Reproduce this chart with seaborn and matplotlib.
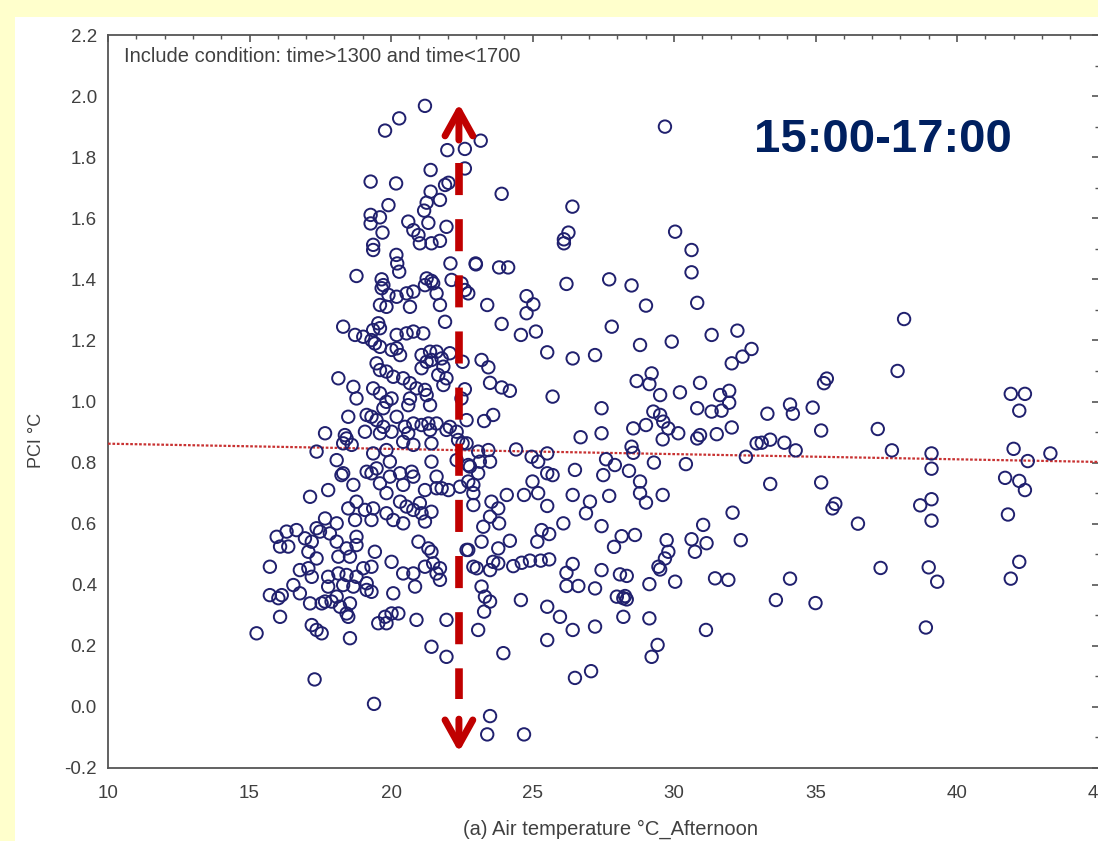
import numpy as np
import pandas as pd
import matplotlib
matplotlib.use("Agg")
import matplotlib.pyplot as plt
from matplotlib.patches import Rectangle
from matplotlib.ticker import MultipleLocator, FormatStrFormatter
import seaborn as sns

# air temperature (x) and PCI (y)
air_temp = [
    # upper cluster
    21.20, 20.29, 19.79, 21.99, 22.61, 23.17, 22.61, 21.40, 19.28, 20.18, 21.91, 22.03,
    21.40, 21.73, 21.26, 21.17, 19.91, 19.28, 19.61, 19.28, 19.70, 20.61, 20.79, 20.97,
    21.02, 21.32, 21.43, 21.73, 21.96, 19.37, 19.37, 20.19, 20.22, 20.29, 22.10, 22.99,
    18.78, 19.67, 19.73, 21.26, 21.43, 21.49, 22.14, 22.49,
    # middle cluster
    19.67, 19.91, 20.20, 20.55, 20.79, 21.20, 21.61, 21.73, 19.61, 19.84, 20.67, 21.91,
    18.31, 18.73, 19.02, 19.37, 19.55, 19.61, 19.31, 19.43, 19.61, 20.20, 20.55, 20.79,
    21.14, 20.20, 20.32, 20.02, 21.08, 21.38, 21.61, 21.79, 21.43, 21.26, 21.08, 21.85,
    22.08, 19.49, 19.61, 19.84, 18.14, 18.67, 18.78, 19.37, 19.61, 20.08, 20.43, 20.67,
    20.90, 21.20, 21.26, 21.67, 21.96, 21.85, 22.49, 19.84, 19.73, 20.02, 20.61, 20.67,
    21.38, 18.49, 19.14, 19.31, 19.49, 19.73, 20.20, 20.49, 20.79, 21.08, 21.32, 21.61,
    22.08, 17.67, 18.37, 18.43, 19.08, 19.61, 20.02, 20.61, 21.38, 21.96, 22.32, 17.37,
    18.31, 18.61, 19.37, 19.84, 20.43, 20.79, 21.43, 22.37, 22.67, 18.08, 18.31, 19.14,
    19.49, 19.96, 20.32, 20.73, 21.43, 21.61, 22.32, 22.79, 23.14,
    # lower cluster
    18.25, 18.67, 19.31, 19.61, 19.84, 19.96, 20.43, 20.79, 17.78, 17.14, 21.20, 21.61,
    21.79, 22.03, 22.44, 22.91, 20.32, 20.55, 20.79, 21.02, 21.08, 21.43, 21.20, 18.49,
    18.78, 19.08, 19.37, 18.73, 19.31, 19.84, 20.08, 20.43, 17.67, 18.08, 17.37, 17.49,
    17.84, 15.96, 16.31, 16.66, 16.96, 17.20, 16.08, 16.37, 18.08, 18.43, 18.78, 18.78,
    18.14, 18.55, 17.08, 17.37, 17.08, 17.20, 16.78, 16.55, 17.78, 18.14, 18.43, 18.78,
    19.14, 18.31, 18.67, 17.78, 18.08, 17.67, 19.14, 19.31, 19.43, 19.31, 19.02, 20.02,
    20.43, 20.79, 20.85, 21.20, 21.43, 21.32, 20.97, 21.49, 21.73, 21.61, 21.73, 20.08,
    15.72, 15.72, 16.02, 16.14, 16.08, 16.78, 17.14, 17.55, 17.90, 18.20, 18.55, 18.43,
    18.49, 15.25, 17.20, 17.37, 17.55, 18.55, 19.55, 19.79, 20.02, 20.26, 19.84, 20.90,
    21.96, 22.73, 21.43, 21.96,
    # spread to the right of the arrow
    23.91, 26.41, 26.27, 26.11, 26.11, 30.04, 30.62, 30.62, 30.82, 23.00, 23.82, 24.14,
    26.20, 27.71, 28.50, 29.01, 22.61, 22.73, 23.40, 24.79, 25.03, 24.79, 23.91, 24.59,
    25.12, 27.80, 31.33, 32.24, 32.74, 32.42, 32.04, 28.80, 29.92, 25.52, 26.42, 27.21,
    22.53, 23.20, 23.44, 23.50, 23.91, 24.20, 22.61, 25.71, 29.21, 28.68, 29.13, 29.51,
    30.21, 30.92, 30.82, 31.33, 31.68, 31.63, 31.95, 31.95, 27.44, 22.67, 23.29, 23.61,
    29.27, 29.51, 29.62, 29.80, 30.15, 29.60, 28.56, 29.01, 31.51, 32.04, 30.82, 30.92,
    27.44, 26.70, 24.42, 24.97, 25.20, 25.52, 25.52, 25.71, 22.53, 23.08, 23.44, 23.50,
    28.50, 28.56, 29.29, 30.42, 27.60, 27.91, 27.50, 28.41, 26.50, 32.54, 32.92, 28.80,
    28.80, 29.01, 29.60, 25.00, 25.20, 25.52, 24.70, 24.09, 26.42, 27.03, 26.89, 27.71,
    26.09, 27.44, 32.07, 32.36, 31.03, 30.62, 31.15, 30.74, 29.74, 29.80, 29.68, 29.45,
    29.51, 27.88, 28.15, 28.62, 30.04, 29.13, 31.45, 31.92, 27.44, 28.09, 28.33, 27.98,
    28.21, 28.33, 28.27, 28.21, 29.13, 31.13, 26.20, 26.62, 27.21, 26.42, 26.20, 25.59,
    25.29, 24.91, 24.62, 24.32, 25.17, 25.59, 25.32, 24.20, 24.59, 25.52, 25.97, 26.42,
    27.21, 25.52, 29.42, 29.21, 23.97, 23.20, 23.32, 23.50, 23.29, 23.08, 22.91, 23.03,
    23.50, 23.61, 23.79, 22.67, 23.20, 23.79, 23.26, 23.50, 23.82, 23.79, 23.55, 22.91,
    22.91, 22.73, 23.08, 22.73,
    # outliers
    29.68, 26.50, 27.07, 17.30, 19.40, 23.50, 23.40, 24.70,
    # hot days
    38.13, 37.90, 41.90, 42.40, 42.20, 37.20, 37.70, 39.10, 39.10, 42.00, 42.50, 43.30,
    41.70, 42.20, 42.40, 38.70, 39.10, 39.10, 41.80, 36.50, 37.30, 39.00, 39.30, 42.20,
    41.90, 38.90, 35.70, 35.60, 35.20, 35.00, 34.10, 33.60, 33.40, 35.40, 35.30, 34.90,
    34.10, 34.20, 34.30, 33.90, 35.20, 33.30, 33.10, 33.40,
]

pci = [
    # upper cluster
    1.968, 1.927, 1.887, 1.823, 1.827, 1.854, 1.763, 1.758, 1.720, 1.714, 1.709, 1.716,
    1.687, 1.660, 1.651, 1.625, 1.643, 1.611, 1.603, 1.583, 1.553, 1.589, 1.561, 1.545,
    1.518, 1.585, 1.518, 1.526, 1.572, 1.513, 1.496, 1.480, 1.452, 1.425, 1.452, 1.452,
    1.411, 1.400, 1.381, 1.403, 1.395, 1.387, 1.398, 1.387,
    # middle cluster
    1.371, 1.349, 1.343, 1.354, 1.360, 1.381, 1.354, 1.316, 1.316, 1.310, 1.310, 1.261,
    1.245, 1.218, 1.212, 1.234, 1.256, 1.240, 1.201, 1.190, 1.179, 1.218, 1.223, 1.229,
    1.223, 1.174, 1.152, 1.169, 1.152, 1.163, 1.163, 1.141, 1.136, 1.130, 1.109, 1.114,
    1.158, 1.125, 1.103, 1.098, 1.076, 1.048, 1.010, 1.043, 1.027, 1.081, 1.076, 1.060,
    1.043, 1.038, 1.021, 1.087, 1.076, 1.054, 1.010, 0.999, 0.978, 1.010, 0.988, 1.010,
    0.988, 0.950, 0.956, 0.950, 0.939, 0.917, 0.950, 0.917, 0.928, 0.923, 0.928, 0.928,
    0.917, 0.896, 0.890, 0.879, 0.901, 0.896, 0.901, 0.896, 0.907, 0.907, 0.901, 0.836,
    0.863, 0.858, 0.830, 0.841, 0.868, 0.858, 0.863, 0.874, 0.863, 0.808, 0.765, 0.770,
    0.781, 0.803, 0.765, 0.770, 0.803, 0.754, 0.808, 0.787, 0.803,
    # lower cluster
    0.759, 0.727, 0.765, 0.732, 0.700, 0.754, 0.727, 0.754, 0.710, 0.688, 0.710, 0.716,
    0.716, 0.710, 0.721, 0.727, 0.672, 0.656, 0.645, 0.667, 0.634, 0.639, 0.607, 0.650,
    0.672, 0.645, 0.650, 0.612, 0.612, 0.634, 0.612, 0.601, 0.617, 0.601, 0.585, 0.574,
    0.568, 0.557, 0.574, 0.579, 0.552, 0.541, 0.525, 0.525, 0.541, 0.519, 0.557, 0.530,
    0.492, 0.492, 0.508, 0.486, 0.454, 0.426, 0.448, 0.399, 0.426, 0.437, 0.432, 0.426,
    0.405, 0.399, 0.394, 0.394, 0.361, 0.345, 0.383, 0.377, 0.508, 0.459, 0.454, 0.475,
    0.437, 0.437, 0.394, 0.459, 0.508, 0.519, 0.541, 0.470, 0.454, 0.437, 0.416, 0.372,
    0.459, 0.366, 0.356, 0.366, 0.295, 0.372, 0.339, 0.339, 0.345, 0.328, 0.339, 0.306,
    0.295, 0.241, 0.268, 0.252, 0.241, 0.225, 0.274, 0.295, 0.306, 0.306, 0.274, 0.285,
    0.285, 0.514, 0.197, 0.164,
    # spread to the right of the arrow
    1.680, 1.638, 1.553, 1.531, 1.518, 1.556, 1.496, 1.423, 1.323, 1.449, 1.439, 1.439,
    1.385, 1.400, 1.380, 1.314, 1.365, 1.354, 1.316, 1.345, 1.318, 1.289, 1.254, 1.218,
    1.229, 1.245, 1.218, 1.232, 1.172, 1.147, 1.125, 1.185, 1.196, 1.161, 1.141, 1.152,
    1.130, 1.136, 1.112, 1.061, 1.046, 1.035, 1.040, 1.016, 1.092, 1.067, 1.057, 1.021,
    1.030, 1.061, 0.978, 0.967, 0.970, 1.021, 1.035, 0.996, 0.978, 0.939, 0.936, 0.956,
    0.967, 0.956, 0.934, 0.912, 0.896, 0.876, 0.912, 0.923, 0.893, 0.915, 0.879, 0.890,
    0.896, 0.883, 0.843, 0.819, 0.803, 0.830, 0.765, 0.759, 0.863, 0.836, 0.841, 0.803,
    0.852, 0.832, 0.800, 0.795, 0.811, 0.792, 0.759, 0.773, 0.776, 0.819, 0.863, 0.738,
    0.700, 0.669, 0.694, 0.738, 0.700, 0.658, 0.694, 0.694, 0.694, 0.672, 0.634, 0.691,
    0.601, 0.592, 0.636, 0.546, 0.596, 0.549, 0.536, 0.508, 0.546, 0.508, 0.486, 0.459,
    0.450, 0.524, 0.559, 0.563, 0.410, 0.402, 0.421, 0.416, 0.448, 0.434, 0.429, 0.361,
    0.356, 0.352, 0.363, 0.295, 0.290, 0.252, 0.396, 0.396, 0.388, 0.468, 0.439, 0.483,
    0.479, 0.479, 0.472, 0.461, 0.541, 0.566, 0.579, 0.544, 0.350, 0.328, 0.295, 0.252,
    0.263, 0.219, 0.203, 0.164, 0.176, 0.394, 0.361, 0.345, 0.312, 0.252, 0.459, 0.454,
    0.448, 0.475, 0.470, 0.514, 0.541, 0.519, 0.590, 0.623, 0.601, 0.650, 0.672, 0.661,
    0.700, 0.738, 0.765, 0.792,
    # outliers
    1.900, 0.095, 0.117, 0.090, 0.010, -0.030, -0.090, -0.090,
    # hot days
    1.270, 1.100, 1.025, 1.025, 0.970, 0.910, 0.840, 0.830, 0.780, 0.845, 0.805, 0.830,
    0.750, 0.740, 0.710, 0.660, 0.680, 0.610, 0.630, 0.600, 0.455, 0.457, 0.410, 0.475,
    0.420, 0.260, 0.665, 0.650, 0.735, 0.340, 0.420, 0.350, 0.730, 1.075, 1.060, 0.980,
    0.990, 0.960, 0.840, 0.865, 0.905, 0.960, 0.865, 0.875,
]

df = pd.DataFrame({"air_temp": air_temp, "pci": pci})

# annotation arrow (drawn over the plot)
arrow_x = 22.4
arrow_top = 1.975
arrow_bottom = -0.148
dash_top = 1.781
dash_bottom = 0.026

navy = "#20206e"
red = "#c00000"
text_gray = "#404040"

sns.set_style("white")
plt.rcParams["font.family"] = ["Liberation Sans", "DejaVu Sans"]
plt.rcParams["axes.unicode_minus"] = False

fig = plt.figure(figsize=(10.98, 8.41), dpi=100, facecolor="#ffffcc")
fig.add_artist(Rectangle((15 / 1098, 0), 1, 1 - 17 / 841, transform=fig.transFigure,
                         facecolor="white", edgecolor="none", zorder=-10))

ax = fig.add_axes([108 / 1098, 1 - 768 / 841, 990.5 / 1098, 733 / 841])
ax.set_facecolor("white")
ax.set_xlim(10, 45)
ax.set_ylim(-0.2, 2.2)

sns.regplot(data=df, x="air_temp", y="pci", ax=ax, scatter=False, ci=None, truncate=False,
            line_kws=dict(color="#c83232", ls=(0, (1.2, 0.8)), lw=1.6, zorder=3))
sns.scatterplot(data=df, x="air_temp", y="pci", ax=ax, marker="o", s=80,
                facecolors="none", edgecolor=navy, linewidth=1.4, zorder=4)

# dashed double arrow
ax.plot([arrow_x, arrow_x], [dash_top, dash_bottom], color=red, lw=5.5,
        dashes=(4.2, 3.15), solid_capstyle="butt", zorder=6)
head = dict(arrowstyle="->,head_length=0.9,head_width=0.5", color=red, lw=5,
            mutation_scale=20, shrinkA=0, shrinkB=0)
ax.annotate("", xy=(arrow_x, arrow_top), xytext=(arrow_x, 1.856), arrowprops=head, zorder=6)
ax.annotate("", xy=(arrow_x, arrow_bottom), xytext=(arrow_x, -0.04), arrowprops=head, zorder=6)

ax.text(37.39, 1.856, "15:00-17:00", fontsize=34, fontweight="bold", color="#002060",
        ha="center", va="center", zorder=7)
ax.text(0.016, 0.97, "Include condition: time>1300 and time<1700", transform=ax.transAxes,
        fontsize=14.5, color=text_gray, ha="left", va="center")

ax.set_xticks(range(10, 50, 5))
ax.xaxis.set_minor_locator(MultipleLocator(1))
ax.set_yticks(np.arange(-0.2, 2.21, 0.2))
ax.yaxis.set_minor_locator(MultipleLocator(0.1))
ax.yaxis.set_major_formatter(FormatStrFormatter("%.1f"))
ax.tick_params(which="both", direction="in", top=True, right=True, colors="#555555",
               labelcolor=text_gray, labelsize=13.5)
ax.tick_params(which="major", length=5, width=1.2)
ax.tick_params(which="minor", length=3, width=1)
ax.tick_params(axis="x", pad=12)
ax.tick_params(axis="y", pad=8)
for sp in ax.spines.values():
    sp.set_color("#555555")
    sp.set_linewidth(1.3)

ax.set_xlabel("(a) Air temperature °C_Afternoon", fontsize=14.5, color=text_gray)
ax.set_ylabel("PCI °C", fontsize=13, color=text_gray)
ax.xaxis.set_label_coords(0.507, -0.071)
ax.yaxis.set_label_coords(-0.064, 0.447)

fig.savefig("out.png", dpi=100, facecolor=fig.get_facecolor())
